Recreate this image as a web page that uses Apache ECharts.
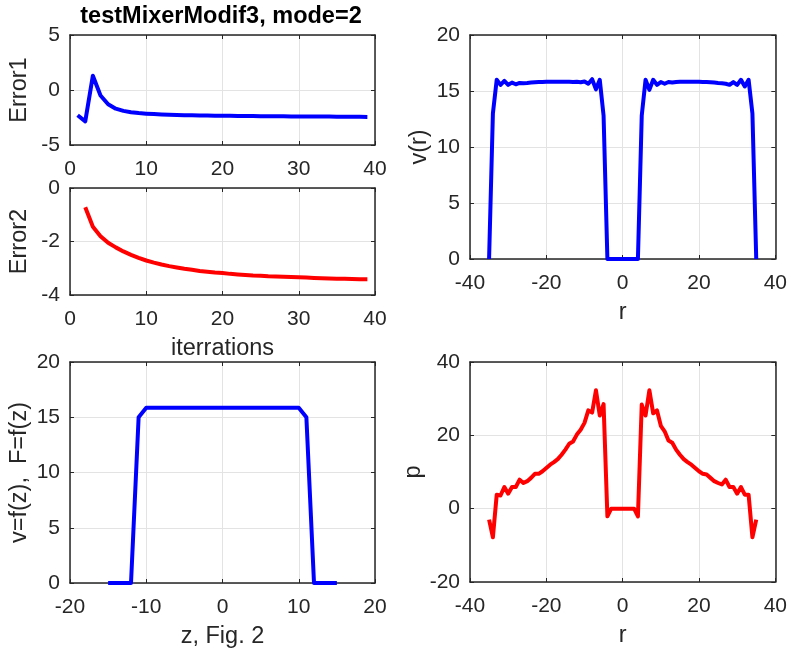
<!DOCTYPE html>
<html>
<head>
<meta charset="utf-8">
<script src="https://cdn.jsdelivr.net/npm/echarts@6/dist/echarts.min.js"></script>
<style>html,body{margin:0;padding:0;background:#fff;}#c{width:790px;height:656px;}</style>
</head>
<body>
<div id="c"></div>
<script>
// ---- data ----
var titleText = 'testMixerModif3, mode=2';
var iter1 = [1,2,3,4,5,6,7,8,9,10,11,12,13,14,15,16,17,18,19,20,21,22,23,24,25,26,27,28,29,30,31,32,33,34,35,36,37,38,39];
var error1 = [-2.3,-2.85,1.3,-0.5,-1.3,-1.7,-1.9,-2.02,-2.1,-2.15,-2.19,-2.22,-2.25,-2.27,-2.29,-2.3,-2.31,-2.32,-2.33,-2.34,-2.35,-2.36,-2.36,-2.37,-2.38,-2.38,-2.39,-2.39,-2.4,-2.4,-2.41,-2.41,-2.42,-2.42,-2.43,-2.43,-2.44,-2.44,-2.45];
var iter2 = [2,3,4,5,6,7,8,9,10,11,12,13,14,15,16,17,18,19,20,21,22,23,24,25,26,27,28,29,30,31,32,33,34,35,36,37,38,39];
var error2 = [-0.72,-1.45,-1.8,-2.05,-2.22,-2.37,-2.5,-2.61,-2.71,-2.79,-2.86,-2.92,-2.97,-3.02,-3.06,-3.1,-3.13,-3.16,-3.18,-3.21,-3.23,-3.25,-3.27,-3.28,-3.3,-3.31,-3.32,-3.33,-3.34,-3.35,-3.36,-3.37,-3.38,-3.39,-3.39,-3.4,-3.41,-3.41];
var rVals = [-35,-34,-33,-32,-31,-30,-29,-28,-27,-26,-25,-24,-23,-22,-21,-20,-19,-18,-17,-16,-15,-14,-13,-12,-11,-10,-9,-8,-7,-6,-5,-4,-3,-2,-1,0,1,2,3,4,5,6,7,8,9,10,11,12,13,14,15,16,17,18,19,20,21,22,23,24,25,26,27,28,29,30,31,32,33,34,35];
var vR = [0,13,16.0,15.55,15.9,15.55,15.75,15.6,15.72,15.7,15.72,15.75,15.78,15.8,15.8,15.82,15.82,15.83,15.83,15.83,15.82,15.82,15.8,15.82,15.78,15.85,15.65,16.05,15.15,16.0,12.8,0,0,0,0,0,0,0,0,0,12.8,16.0,15.1,16.0,15.55,15.8,15.65,15.8,15.75,15.8,15.82,15.83,15.83,15.83,15.82,15.82,15.8,15.8,15.78,15.75,15.72,15.7,15.65,15.55,15.8,15.55,16.0,15.4,16.0,13,0];
var pR = [-3,-7.8,3.8,3.6,5.9,4.1,5.9,5.9,7.9,7.0,7.5,8.4,9.5,9.5,10.2,11.1,12.0,12.7,13.5,14.7,16.1,17.7,18.3,20.2,21.5,23.4,26.8,26.2,32.3,25.4,28.5,-2.1,0,0,0,0,0,0,0,-2.1,28.4,25.4,32.3,26,26.8,22.6,21.1,18.6,18.0,16.1,14.7,13.5,12.7,12.0,11.1,10.2,9.5,9.3,8.4,7.5,7.0,6.6,7.9,5.9,5.9,4.1,5.9,3.8,3.8,-7.8,-3];
var zVals = [-15,-14,-13,-12,-11,-10,-9,-8,-7,-6,-5,-4,-3,-2,-1,0,1,2,3,4,5,6,7,8,9,10,11,12,13,14,15];
var vZ = [0,0,0,0,15,15.85,15.85,15.85,15.85,15.85,15.85,15.85,15.85,15.85,15.85,15.85,15.85,15.85,15.85,15.85,15.85,15.85,15.85,15.85,15.85,15.85,15,0,0,0,0];

// ---- styles ----
var FONT = 'Liberation Sans, Arial, Helvetica, sans-serif';
var TXT = '#262626';
var GRIDC = '#e3e3e3';
var TICKFS = 21, NAMEFS = 23.5;

function pairs(xs, ys){ return xs.map(function(x,i){ return [x, ys[i]]; }); }

var grids = [
  {left:70, top:35, width:305, height:110},
  {left:70, top:188, width:305, height:107},
  {left:470, top:35, width:306, height:224},
  {left:70, top:362, width:305, height:221},
  {left:470, top:362, width:306, height:220}
];
var xSpec = [
  {min:0,max:40,interval:10,name:''},
  {min:0,max:40,interval:10,name:'iterrations'},
  {min:-40,max:40,interval:20,name:'r'},
  {min:-20,max:20,interval:10,name:'z, Fig. 2'},
  {min:-40,max:40,interval:20,name:'r'}
];
var ySpec = [
  {min:-5,max:5,interval:5,name:'Error1'},
  {min:-4,max:0,interval:2,name:'Error2'},
  {min:0,max:20,interval:5,name:'v(r)'},
  {min:0,max:20,interval:5,name:'v=f(z),  F=f(z)'},
  {min:-20,max:40,interval:20,name:'p'}
];

var xAxes = [], yAxes = [];
grids.forEach(function(g, i){
  var xs = xSpec[i], ys = ySpec[i];
  xAxes.push({
    type:'value', gridIndex:i, position:'bottom', min:xs.min, max:xs.max, interval:xs.interval,
    name:xs.name, nameLocation:'middle', nameGap:42,
    nameTextStyle:{fontSize:NAMEFS, color:TXT, fontFamily:FONT},
    axisLine:{show:true, onZero:false, lineStyle:{color:TXT, width:1.5}},
    axisTick:{show:true, inside:true, length:4, lineStyle:{color:TXT, width:1}},
    axisLabel:{show:true, fontSize:TICKFS, color:TXT, fontFamily:FONT, margin:14},
    splitLine:{show:true, lineStyle:{color:GRIDC, width:1}}
  });
  xAxes.push({
    type:'value', gridIndex:i, position:'top', min:xs.min, max:xs.max, interval:xs.interval,
    axisLine:{show:true, onZero:false, lineStyle:{color:TXT, width:1.5}},
    axisTick:{show:true, inside:true, length:4, lineStyle:{color:TXT, width:1}},
    axisLabel:{show:false}, splitLine:{show:false}
  });
  yAxes.push({
    type:'value', gridIndex:i, position:'left', min:ys.min, max:ys.max, interval:ys.interval,
    name:ys.name, nameLocation:'middle', nameGap:38,
    nameTextStyle:{fontSize:NAMEFS, color:TXT, fontFamily:FONT},
    axisLine:{show:true, onZero:false, lineStyle:{color:TXT, width:1.5}},
    axisTick:{show:true, inside:true, length:4, lineStyle:{color:TXT, width:1}},
    axisLabel:{show:true, fontSize:TICKFS, color:TXT, fontFamily:FONT, margin:10},
    splitLine:{show:true, lineStyle:{color:GRIDC, width:1}}
  });
  yAxes.push({
    type:'value', gridIndex:i, position:'right', min:ys.min, max:ys.max, interval:ys.interval,
    axisLine:{show:true, onZero:false, lineStyle:{color:TXT, width:1.5}},
    axisTick:{show:true, inside:true, length:4, lineStyle:{color:TXT, width:1}},
    axisLabel:{show:false}, splitLine:{show:false}
  });
});

function lineSeries(i, data, color){
  return {type:'line', xAxisIndex:2*i, yAxisIndex:2*i, data:data, showSymbol:false, symbol:'none',
    lineStyle:{color:color, width:4, join:'round', cap:'butt'}, itemStyle:{color:color}, animation:false, clip:true};
}

var chart = echarts.init(document.getElementById('c'), null, {renderer:'canvas'});
chart.setOption({
  animation:false,
  backgroundColor:'#ffffff',
  grid: grids.map(function(g){ return Object.assign({containLabel:false}, g); }),
  xAxis: xAxes,
  yAxis: yAxes,
  graphic: [{
    type:'text', x:221, y:17, style:{text:titleText, font:'bold 23.5px ' + FONT, fill:'#000', textAlign:'center', textVerticalAlign:'middle', verticalAlign:'middle'}
  }],
  series: [
    lineSeries(0, pairs(iter1, error1), '#0000ff'),
    lineSeries(1, pairs(iter2, error2), '#ff0000'),
    lineSeries(2, pairs(rVals, vR), '#0000ff'),
    lineSeries(3, pairs(zVals, vZ), '#0000ff'),
    lineSeries(4, pairs(rVals, pR), '#ff0000')
  ]
});
</script>
</body>
</html>
